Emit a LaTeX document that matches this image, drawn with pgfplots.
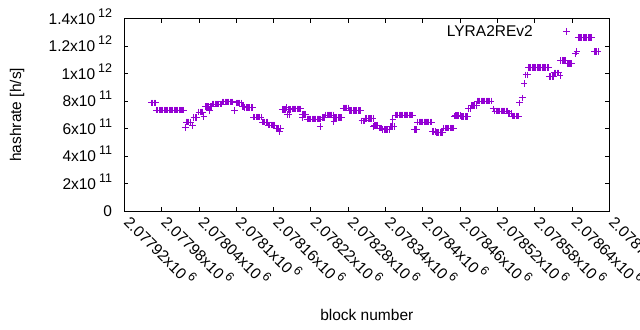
\documentclass[border=0pt]{standalone}
\usepackage{pgfplots}
\pgfplotsset{compat=1.18}
\usepackage{fontspec}
\setmainfont{Liberation Sans}
\definecolor{gpviolet}{HTML}{9400D3}
\newcommand\sups[1]{\hspace{3bp}\raisebox{0.42em}{\fontsize{12.5bp}{12.5bp}\selectfont #1}}
\begin{document}
\begin{tikzpicture}[font=\fontsize{15.5bp}{18bp}\selectfont]
\path[use as bounding box] (-124.3bp,-119bp) rectangle (515.7bp,211bp);
\begin{axis}[
  scale only axis, width=485bp, height=192.5bp,
  at={(0,0)}, anchor=south west,
  xmin=0, xmax=780, ymin=0, ymax=14,
  xtick={0,60,...,780},
  xticklabels={2.07792x10\sups{6},2.07798x10\sups{6},2.07804x10\sups{6},2.0781x10\sups{6},2.07816x10\sups{6},2.07822x10\sups{6},2.07828x10\sups{6},2.07834x10\sups{6},2.0784x10\sups{6},2.07846x10\sups{6},2.07852x10\sups{6},2.07858x10\sups{6},2.07864x10\sups{6},2.0787x10\sups{6}},
  ytick={0,2,...,14},
  yticklabels={0,2x10\sups{11},4x10\sups{11},6x10\sups{11},8x10\sups{11},1x10\sups{12},1.2x10\sups{12},1.4x10\sups{12}},
  tick align=inside, major tick length=4bp,
  axis line style={black, line width=1bp},
  every tick/.style={black, line width=0.8bp},
  xticklabel style={xshift=-1.4bp, yshift=-12bp, rotate=-45, anchor=base west, inner sep=0pt},
  yticklabel style={anchor=base east, inner sep=0pt, xshift=-12bp, yshift=-5.5bp},
  xlabel={block number},
  ylabel={hashrate [h/s]},
  xlabel style={at={(axis description cs:0.5,-0.54)}, anchor=center, inner sep=0pt},
  ylabel style={at={(axis description cs:-0.221,0.5)}, anchor=center, rotate=0, inner sep=0pt},
  legend plot pos=right,
  legend style={draw=none, fill=none, inner sep=0pt, nodes={inner sep=0pt}, column sep=0pt,
    at={(axis description cs:0.921,0.932)}, anchor=east},
  legend image code/.code={\draw[#1, only marks] plot coordinates {(34bp,0bp)}; \path[draw=none] (0bp,0bp) -- (38bp,0bp);},
]
\addplot[only marks, mark=+, mark size=3.3bp, color=gpviolet, line width=1bp] coordinates {
(44,7.86)(46,7.86)(48,7.86)(50,7.86)
(52,7.34)(54,7.34)(56,7.34)(58,7.34)(60,7.34)(62,7.34)(64,7.34)(66,7.34)(68,7.34)(70,7.34)(72,7.34)(74,7.34)(76,7.34)(78,7.34)(80,7.34)(82,7.34)(84,7.34)(86,7.34)(88,7.34)(90,7.34)(92,7.34)(94,7.34)(96,7.34)
(98,6.08)(110,6.22)
(100,6.47)(102,6.47)(104,6.47)(106,6.47)
(112,6.8)(114,6.8)(116,6.8)
(120,7.2)(122,7.2)(124,7.2)(126,7.2)
(128,6.88)
(130,7.6)(132,7.6)(134,7.6)(136,7.6)(138,7.6)(140,7.6)(137,7.3)
(142,7.78)(144,7.78)(146,7.78)(148,7.78)(150,7.78)(152,7.78)(154,7.78)(156,7.78)
(158,7.93)(160,7.93)(162,7.93)(164,7.93)(166,7.93)(168,7.93)(170,7.93)(172,7.93)(174,7.93)
(177,7.32)
(180,7.86)(182,7.86)(184,7.86)(186,7.86)(188,7.86)
(190,7.6)(192,7.6)(194,7.53)(196,7.53)(198,7.53)(200,7.53)(202,7.53)(204,7.53)(206,7.53)
(208,6.83)(210,6.83)(212,6.83)(214,6.83)(216,6.83)(218,6.83)(220,6.83)
(222,6.47)(224,6.47)(226,6.47)(228,6.47)(230,6.47)
(232,6.25)(234,6.25)(236,6.25)(238,6.25)(240,6.25)(242,6.25)
(244,6.03)(246,6.03)(248,6.03)(250,5.78)(252,6.03)
(254,7.37)(256,7.37)(258,7.37)(260,7.37)(261,7.53)(262,7.0)(264,7.37)(265,7.0)(266,7.37)(268,7.37)
(270,7.42)(272,7.42)(274,7.42)(276,7.42)(278,7.42)(280,7.42)(282,7.42)(284,7.42)
(287,6.8)
(286,7.05)(288,7.05)(290,7.05)(292,7.05)
(294,6.69)(296,6.69)(298,6.69)(300,6.69)(302,6.69)(304,6.69)(306,6.69)(308,6.69)(310,6.69)(312,6.69)(314,6.69)(316,6.69)
(315,6.15)
(318,6.8)(320,6.8)(322,6.8)
(324,6.98)(326,6.98)(328,6.98)(330,6.98)(332,6.98)(334,6.98)(336,6.98)
(337,6.51)
(338,6.78)(340,6.78)(342,6.78)(344,6.78)(346,6.78)(348,6.78)(350,6.78)
(352,7.49)(354,7.49)(356,7.49)(358,7.49)(360,7.49)
(362,7.29)(364,7.29)(366,7.29)(368,7.29)(370,7.29)(372,7.29)(374,7.29)(376,7.29)(378,7.29)(380,7.29)
(382,6.56)(384,6.56)(386,6.56)
(388,6.71)(390,6.71)(392,6.71)(394,6.71)(396,6.71)(398,6.71)(400,6.71)
(401,6.15)
(402,6.2)(404,6.2)(406,6.2)(408,6.2)
(410,6.03)(412,6.03)(414,6.03)
(416,5.91)(418,5.91)(420,5.91)(422,5.91)(424,5.91)(426,5.91)
(428,6.15)(430,6.15)(432,6.15)(434,6.15)
(432,6.64)
(436,6.98)(438,6.98)(440,6.98)(442,6.98)(444,6.98)(446,6.98)(448,6.98)(450,6.98)(452,6.98)(454,6.98)(456,6.98)(458,6.98)(460,6.98)(462,6.98)(464,6.98)
(466,5.93)(468,5.93)(470,5.93)
(472,6.47)(474,6.47)(476,6.47)(478,6.47)(480,6.47)(482,6.47)(484,6.47)(486,6.47)(488,6.47)(490,6.47)(492,6.47)(494,6.47)
(496,5.78)(498,5.78)(500,5.78)
(502,5.71)(504,5.71)(506,5.71)(508,5.71)(510,5.71)(512,5.71)
(514,6.03)(516,6.03)(518,6.03)(520,6.03)(522,6.03)(524,6.03)(526,6.03)(528,6.03)(530,6.03)
(531,6.9)
(532,6.93)(534,6.93)(536,6.93)(538,6.93)(540,6.93)
(542,6.88)(544,6.88)(546,6.88)(548,6.88)(550,6.88)(552,6.88)
(554,7.42)(556,7.42)
(558,7.66)(560,7.66)(562,7.66)(564,7.66)(566,7.66)
(568,8.0)(570,8.0)(572,8.0)(574,8.0)(576,8.0)(578,8.0)(580,8.0)(582,8.0)(584,8.0)(586,8.0)(588,8.0)(590,8.0)
(593,7.42)
(596,7.27)(598,7.27)(600,7.27)(602,7.27)(604,7.27)(606,7.27)(608,7.27)(610,7.27)(612,7.27)(614,7.27)(616,7.27)
(618,7.07)(620,7.07)(622,7.07)
(624,6.9)(626,6.9)(628,6.9)(630,6.9)(632,6.9)(634,6.9)
(636,7.86)(640,8.22)(643,9.26)
(646,9.9)(648,9.9)
(650,10.45)(652,10.45)(654,10.45)(656,10.45)(658,10.45)(660,10.45)(662,10.45)(664,10.45)(666,10.45)(668,10.45)(670,10.45)(672,10.45)(674,10.45)(676,10.45)(678,10.45)(680,10.45)(682,10.45)
(684,9.8)(686,9.8)(688,9.8)(690,9.8)
(692,10.04)(694,10.04)(696,10.04)(698,10.04)
(701,9.85)
(702,10.96)(704,10.96)(706,10.96)(708,10.96)(710,10.96)
(712,10.72)(714,10.72)(716,10.72)(718,10.72)(720,10.72)
(726,11.43)(728,11.58)
(730,12.6)(732,12.6)(734,12.6)(736,12.6)(738,12.6)(740,12.6)(742,12.6)(744,12.6)(746,12.6)(748,12.6)(750,12.6)(752,12.6)
(756,11.58)(758,11.58)(760,11.58)(762,11.58)
};
\addlegendentry{LYRA2REv2}
\end{axis}
\end{tikzpicture}
\end{document}
